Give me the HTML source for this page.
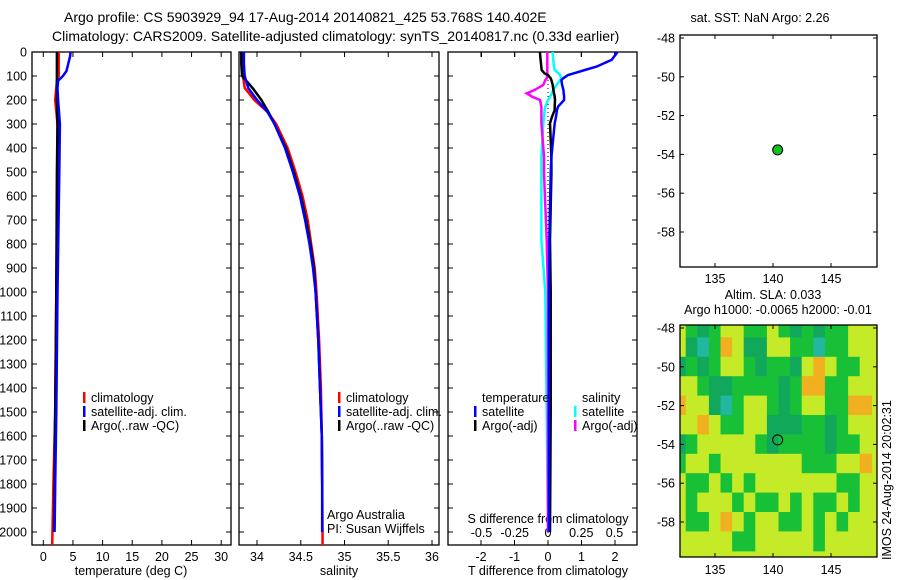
<!DOCTYPE html>
<html><head><meta charset="utf-8"><style>
body{margin:0;background:#fff;}
svg{display:block;font-family:"Liberation Sans",sans-serif;}
text{font-size:12.5px;fill:#000;}
text.big{font-size:14px;}
</style></head><body>
<svg id="s" width="900" height="580" xmlns="http://www.w3.org/2000/svg">
<defs>
<clipPath id="c1"><rect x="32" y="52" width="199" height="493"/></clipPath>
<clipPath id="c2"><rect x="239" y="52" width="200" height="493"/></clipPath>
<clipPath id="c3"><rect x="448" y="52" width="189" height="493"/></clipPath>
<clipPath id="cm"><rect x="680" y="325" width="197" height="232"/></clipPath>
</defs>
<text class="big" x="64" y="22">Argo profile: CS 5903929_94 17-Aug-2014 20140821_425 53.768S 140.402E</text>
<text class="big" x="52" y="41">Climatology: CARS2009. Satellite-adjusted climatology: synTS_20140817.nc (0.33d earlier)</text>
<g id="g1"></g>
<g id="g2"></g>
<g id="g3"></g>
<g id="m1"></g>
<g id="m2"></g>
</svg>
<script>
// ---- data ----
const depthTicks=[0,100,200,300,400,500,600,700,800,900,1000,1100,1200,1300,1400,1500,1600,1700,1800,1900,2000];
const tempTicks=[0,5,10,15,20,25,30];
const salTicks=[34,34.5,35,35.5,36];
const tdTicks=[-2,-1,0,1,2];
const sdTicks=[-0.5,-0.25,0,0.25,0.5];
const tDepth=[0,20,50,80,90,100,110,120,150,200,300,500,1000,1500,1800,2000];
const tClim=[2.6,2.6,2.6,2.6,2.6,2.6,2.4,2.3,2.2,2.0,2.4,2.4,2.2,2.0,1.7,1.5];
const tSat=[4.6,4.5,4.2,3.9,3.6,3.3,2.9,2.5,2.4,2.5,2.8,2.7,2.4,2.2,2.0,1.9];
const tArgo=[2.3,2.3,2.3,2.3,2.3,2.3,2.3,2.3,2.3,2.3,2.4,2.3,2.2,2.0,1.9,1.8];
const sDepth=[0,50,100,150,200,250,300,400,500,600,700,800,900,1000,1200,1400,1600,1800,2000];
const sClim=[33.83,33.83,33.84,33.86,33.97,34.12,34.22,34.35,34.44,34.52,34.58,34.62,34.66,34.68,34.71,34.73,34.74,34.745,34.75];
const sSat=[33.85,33.85,33.86,33.9,34.0,34.12,34.2,34.32,34.41,34.49,34.55,34.6,34.64,34.67,34.7,34.72,34.74,34.745,34.745];
const sArgo=[33.82,33.82,33.83,33.95,34.05,34.13,34.2,34.33,34.42,34.5,34.56,34.61,34.65,34.67,34.7,34.72,34.74,34.745,34.745];
const dDepth=[0,5,33,61,75,89,96,110,117,137,158,172,186,200,228,242,270,297,436,505,783,1000,1500,2000];
const dTSat=[2.0,2.05,1.9,1.45,1.1,0.76,0.6,0.45,0.4,0.42,0.46,0.47,0.48,0.48,0.3,0.27,0.24,0.2,0.1,0.08,0.04,0.03,0.03,0.03];
const dTArgo=[-0.24,-0.24,-0.22,-0.2,-0.19,-0.1,0,0.08,0.1,0.14,0.16,0.18,0.2,0.21,0.2,0.2,0.12,0.06,0.1,0.1,0.06,0.08,0.08,0.06];
const dSSat=[0.035,0.035,0.04,0.045,0.05,0.08,0.09,0.1,0.09,0.065,0.04,0.03,0.015,0.0,-0.02,-0.025,-0.03,-0.035,-0.05,-0.05,-0.05,-0.02,-0.01,0.0];
const dSArgo=[-0.005,-0.005,-0.005,-0.005,-0.005,-0.005,-0.005,-0.01,-0.02,-0.035,-0.1,-0.16,-0.12,-0.06,-0.05,-0.05,-0.05,-0.05,-0.03,-0.03,-0.01,0,0,0];
const lonTicks=[135,140,145];
const latTicks=[-48,-50,-52,-54,-56,-58];
const argoLon=140.402, argoLat=-53.768;
const slaLon0=132, slaLat0=-48;
const sla=[
[1,0,-1,0,1,1,0,0,1,0,-1,0,-1,0,0,1,1],
[1,-1,-2,0,2,1,-1,-1,1,1,0,0,-2,0,0,1,1],
[-1,0,-1,0,1,1,0,-1,0,0,-1,1,2,1,0,0,1],
[1,1,0,-1,-1,0,0,0,0,-1,0,2,2,0,0,1,1],
[2,1,1,-1,-2,0,1,1,0,-1,0,1,1,0,0,2,2],
[1,1,2,1,0,0,1,1,-1,-1,-1,0,0,-1,0,1,1],
[-1,0,1,1,1,1,1,0,-1,0,0,0,0,-1,0,0,1],
[0,1,1,0,1,1,1,1,1,1,1,0,0,0,1,1,2],
[1,0,0,1,0,1,0,1,1,1,1,1,1,1,0,0,1],
[1,0,1,1,1,0,1,0,0,1,0,1,0,0,1,0,1],
[1,0,0,1,2,1,0,1,1,0,0,1,0,1,0,1,1],
[1,1,1,1,1,0,0,1,1,1,1,1,0,1,1,1,1]];
// ---- helpers ----
const NS="http://www.w3.org/2000/svg";
function mk(p,t,a,txt){const e=document.createElementNS(NS,t);for(const k in a)e.setAttribute(k,a[k]);if(txt!==undefined)e.textContent=txt;p.appendChild(e);return e;}
const yD=d=>52+0.24*d;
const xT=v=>43.3+5.93*v;
const xS=v=>257+87.5*(v-34);
const xTD=v=>548+33.5*v;
const xSD=v=>548+133*v;
const xLon=v=>773+11.6*(v-140);
const yLat1=v=>38+19.4*(-48-v);
const yLat2=v=>328+19.4*(-48-v);
function line(g,xs,ds,fx,col,clip,name,w){
 const pts=xs.map((v,i)=>fx(v).toFixed(1)+","+yD(ds[i]).toFixed(1)).join(" ");
 const e=mk(g,"polyline",{points:pts,fill:"none",stroke:col,"stroke-width":w||2.5,"clip-path":"url(#"+clip+")"});
 
 
}
function frame(g,x,y,w,h,name){const e=mk(g,"rect",{x:x,y:y,width:w,height:h,fill:"none",stroke:"#000","stroke-width":1.3});
 
 }
function yticks(g,x0,x1,labels){depthTicks.forEach(d=>{const y=yD(d);
 mk(g,"line",{x1:x0,y1:y,x2:x0+5,y2:y,stroke:"#000"});mk(g,"line",{x1:x1,y1:y,x2:x1-5,y2:y,stroke:"#000"});
 if(labels){const t=mk(g,"text",{x:x0-5,y:y+4.5,"text-anchor":"end"},String(d));
 
 }});}
function xticks(g,ticks,fx,yb,yt,lab){ticks.forEach(v=>{const x=fx(v);
 mk(g,"line",{x1:x,y1:yb,x2:x,y2:yb-5,stroke:"#000"});if(yt!==null)mk(g,"line",{x1:x,y1:yt,x2:x,y2:yt+5,stroke:"#000"});
 const t=mk(g,"text",{x:x,y:yb+16,"text-anchor":"middle"},lab?lab(v):String(v));
 
 });}
function legend(g,x,y,col,txt){mk(g,"rect",{x:x,y:y-10,width:2.5,height:11,fill:col});
 const t=mk(g,"text",{x:x+8,y:y},txt);
 
 }
function title(g,x,y,txt,name,anchor){const t=mk(g,"text",{x:x,y:y,"text-anchor":anchor||"middle"},txt);
 
 }
// ---- panel 1 ----
const g1=document.getElementById("g1");
frame(g1,32,52,199,493,"temperature-plot-frame");
yticks(g1,32,231,true);
xticks(g1,tempTicks,xT,545,52);
title(g1,131,575,"temperature (deg C)","temperature-axis-title");
line(g1,tClim,tDepth.map((d,i)=>i==tDepth.length-1?2055:d),xT,"#f00","c1","temp-climatology-line");
line(g1,tArgo,tDepth,xT,"#000","c1","temp-argo-line");
line(g1,tSat,tDepth,xT,"#00f","c1","temp-satellite-line");
legend(g1,83,402,"#f00","climatology");
legend(g1,83,416,"#00f","satellite-adj. clim.");
legend(g1,83,430,"#000","Argo(..raw -QC)");
// ---- panel 2 ----
const g2=document.getElementById("g2");
frame(g2,239,52,200,493,"salinity-plot-frame");
yticks(g2,239,439,false);
xticks(g2,salTicks,xS,545,52);
title(g2,339,575,"salinity","salinity-axis-title");
line(g2,sClim,sDepth.map((d,i)=>i==sDepth.length-1?2055:d),xS,"#f00","c2","sal-climatology-line");
line(g2,sArgo,sDepth,xS,"#000","c2","sal-argo-line");
line(g2,sSat,sDepth,xS,"#00f","c2","sal-satellite-line");
legend(g2,338,402,"#f00","climatology");
legend(g2,338,416,"#00f","satellite-adj. clim.");
legend(g2,338,430,"#000","Argo(..raw -QC)");
title(g2,327,519,"Argo Australia","credit-line-1","start");
title(g2,327,533,"PI: Susan Wijffels","credit-line-2","start");
// ---- panel 3 ----
const g3=document.getElementById("g3");
frame(g3,448,52,189,493,"difference-plot-frame");
yticks(g3,448,637,false);
xticks(g3,tdTicks,xTD,545,52);
sdTicks.forEach(v=>{const x=xSD(v);mk(g3,"line",{x1:x,y1:52,x2:x,y2:57,stroke:"#000"});
 const t=mk(g3,"text",{x:x,y:537,"text-anchor":"middle"},String(v));
 
 });
title(g3,548,523,"S difference from climatology","s-diff-axis-title");
title(g3,548,575,"T difference from climatology","t-diff-axis-title");
mk(g3,"line",{x1:xTD(0),y1:52,x2:xTD(0),y2:545,stroke:"#000","stroke-dasharray":"1,3"});
line(g3,dSSat,dDepth,xSD,"#0ff","c3","s-diff-satellite-line");
line(g3,dSArgo,dDepth,xSD,"#f0f","c3","s-diff-argo-line");
line(g3,dTArgo,dDepth,xTD,"#000","c3","t-diff-argo-line");
line(g3,dTSat,dDepth,xTD,"#00f","c3","t-diff-satellite-line");
title(g3,482,402,"temperature","legend-temperature-heading","start");
title(g3,582,402,"salinity","legend-salinity-heading","start");
legend(g3,474,416,"#00f","satellite");
legend(g3,474,430,"#000","Argo(-adj)");
legend(g3,574,416,"#0ff","satellite");
legend(g3,574,430,"#f0f","Argo(-adj)");
// ---- map 1 ----
const m1=document.getElementById("m1");
function mapAxes(g,top,bot,yLat,lblY){
 lonTicks.forEach(v=>{const x=xLon(v);mk(g,"line",{x1:x,y1:bot,x2:x,y2:bot-4,stroke:"#000"});mk(g,"line",{x1:x,y1:top,x2:x,y2:top+4,stroke:"#000"});
  const t=mk(g,"text",{x:x,y:lblY,"text-anchor":"middle"},String(v));
  
  });
 latTicks.forEach(v=>{const y=yLat(v);mk(g,"line",{x1:680,y1:y,x2:684,y2:y,stroke:"#000"});mk(g,"line",{x1:877,y1:y,x2:873,y2:y,stroke:"#000"});
  const t=mk(g,"text",{x:675,y:y+4.5,"text-anchor":"end"},String(v));
  
  });}
title(m1,760,22,"sat. SST: NaN Argo: 2.26","sst-map-title");
frame(m1,680,35,197,232,"sst-map-frame");
mapAxes(m1,35,267,yLat1,283);
const p1=mk(m1,"circle",{cx:xLon(argoLon),cy:yLat1(argoLat),r:5,fill:"#10c020",stroke:"#000","stroke-width":1});


// ---- map 2 ----
const m2=document.getElementById("m2");
title(m2,773,299,"Altim. SLA: 0.033","sla-map-title");
title(m2,778,314,"Argo h1000: -0.0065 h2000: -0.01","sla-map-subtitle");
const cols={"-2":"#20b8a0","-1":"#12a85c","0":"#18c038","1":"#c4ea28","2":"#f0b020"};
const hg=mk(m2,"g",{"clip-path":"url(#cm)"});
mk(hg,"rect",{x:680,y:325,width:197,height:232,fill:"#c4ea28"});
sla.forEach((row,j)=>row.forEach((v,i)=>{
 const x0=xLon(slaLon0+i-0.5),y0=yLat2(slaLat0-j+0.5);
 const r=mk(hg,"rect",{x:x0-0.3,y:y0-0.3,width:12.2,height:20,fill:cols[String(v)]});
 
 
}));
frame(m2,680,325,197,232,"sla-map-frame");
mapAxes(m2,325,557,yLat2,574);
const p2=mk(m2,"circle",{cx:xLon(argoLon),cy:yLat2(argoLat),r:5,fill:"none",stroke:"#000","stroke-width":1});


const st=mk(m2,"text",{x:0,y:0,transform:"translate(891,560) rotate(-90)"},"IMOS 24-Aug-2014 20:02:31");


</script>
</body></html>
